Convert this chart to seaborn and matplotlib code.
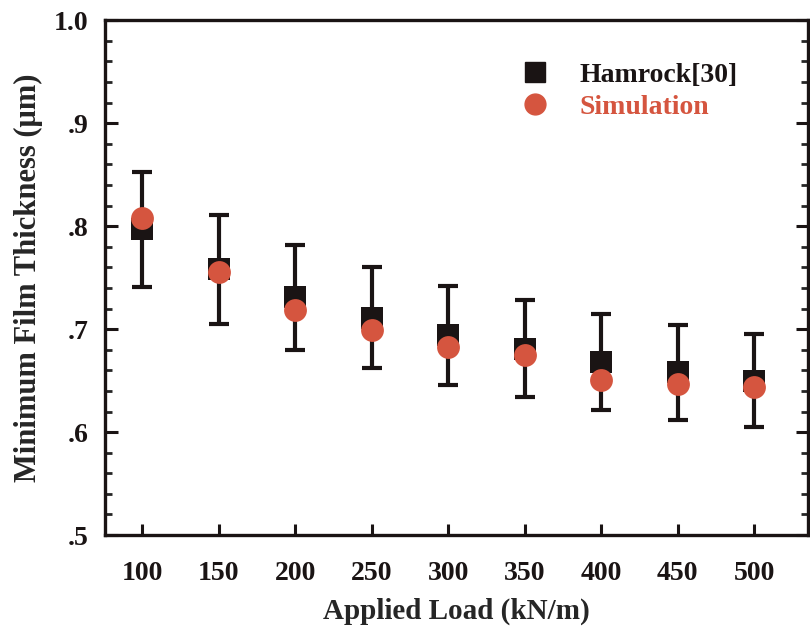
import matplotlib
matplotlib.use("Agg")
import matplotlib.pyplot as plt
import seaborn as sns
import pandas as pd
from matplotlib.ticker import MultipleLocator
from matplotlib.lines import Line2D

loads = [100, 150, 200, 250, 300, 350, 400, 450, 500]
hamrock = [0.797, 0.758, 0.731, 0.711, 0.694, 0.681, 0.668, 0.658, 0.650]
hamrock_err = [0.056, 0.053, 0.051, 0.049, 0.048, 0.047, 0.047, 0.046, 0.045]
simulation = [0.808, 0.755, 0.719, 0.699, 0.683, 0.675, 0.651, 0.647, 0.644]
ytick_vals = [0.5, 0.6, 0.7, 0.8, 0.9, 1.0]
ytick_labels = [".5", ".6", ".7", ".8", ".9", "1.0"]

RED = "#d5553f"
BLK = "#1a1414"

sns.set_style("ticks")
plt.rcParams["font.family"] = ["Liberation Serif", "DejaVu Serif"]
plt.rcParams["font.weight"] = "bold"

df_h = pd.DataFrame({"load": loads, "thick": hamrock})
df_s = pd.DataFrame({"load": loads, "thick": simulation})

fig = plt.figure(figsize=(8.1, 6.31), dpi=100)
ax = fig.add_axes([0.130, 0.152, 0.8675, 0.816])

ax.errorbar(loads, hamrock, yerr=hamrock_err, fmt="none", ecolor=BLK,
            elinewidth=3.0, capsize=7, capthick=3.0, zorder=2)
sns.scatterplot(data=df_h, x="load", y="thick", marker="s", s=235,
                color=BLK, linewidth=0, ax=ax, zorder=3)
sns.scatterplot(data=df_s, x="load", y="thick", marker="o", s=270,
                color=RED, linewidth=0, ax=ax, zorder=4)

ax.set_xlim(76, 535)
ax.set_ylim(0.5, 1.0)
ax.set_xticks(loads)
ax.set_xticklabels([str(v) for v in loads])
ax.set_yticks(ytick_vals)
ax.set_yticklabels(ytick_labels)
ax.yaxis.set_minor_locator(MultipleLocator(0.02))

for sp in ax.spines.values():
    sp.set_linewidth(2.4)
    sp.set_color(BLK)
    sp.set_visible(True)

ax.tick_params(axis="x", which="major", direction="in", length=8, width=2.2,
               bottom=True, top=False, labelsize=20, pad=19, colors=BLK)
ax.tick_params(axis="y", which="major", direction="in", length=9, width=2.2,
               left=True, right=True, labelsize=20, pad=12, colors=BLK)
ax.tick_params(axis="y", which="minor", direction="in", length=5, width=2,
               left=True, right=True)
for lab in ax.get_xticklabels() + ax.get_yticklabels():
    lab.set_fontweight("bold")

ax.set_xlabel("Applied Load (kN/m)", fontsize=21, fontweight="bold", labelpad=8)
ax.set_ylabel("Minimum Film Thickness (\u03bcm)", fontsize=22, fontweight="bold", labelpad=8)

handles = [
    Line2D([], [], marker="s", linestyle="none", color=BLK, markersize=14),
    Line2D([], [], marker="o", linestyle="none", color=RED, markersize=15),
]
leg = ax.legend(handles, ["Hamrock[30]", "Simulation"], loc="upper left",
                bbox_to_anchor=(0.537, 0.967), frameon=False,
                handletextpad=0.6, labelspacing=0.25,
                prop={"weight": "bold", "size": 20})
leg.get_texts()[0].set_color(BLK)
leg.get_texts()[1].set_color(RED)

fig.savefig("out.png", dpi=100)
